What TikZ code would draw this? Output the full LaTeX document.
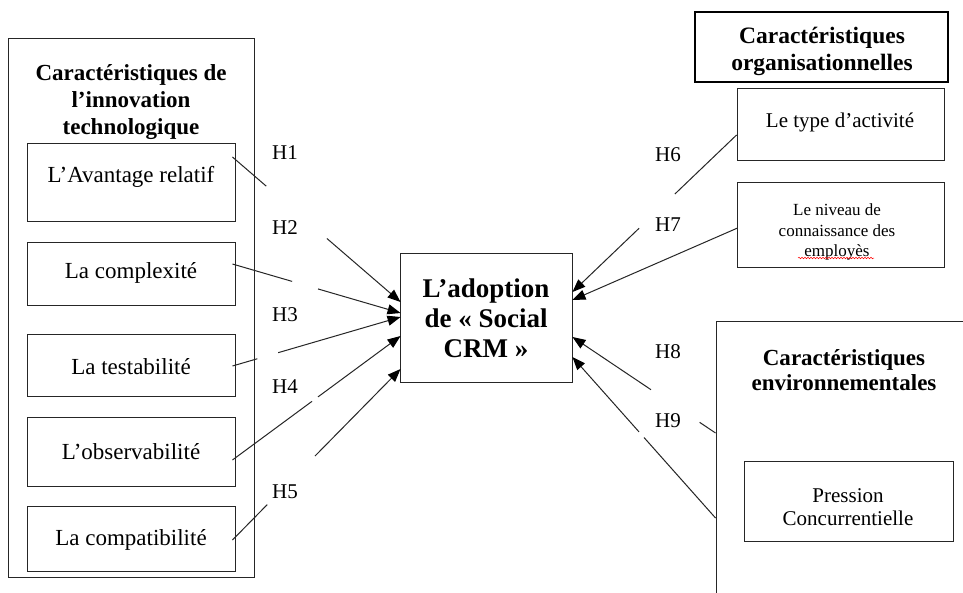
\documentclass[tikz,border=0pt]{standalone}
\usepackage{fontspec}
\setmainfont{Liberation Serif}
\usetikzlibrary{arrows.meta,calc,decorations.pathmorphing}
\begin{document}
\begin{tikzpicture}[x=1pt,y=-1pt,
  box/.style={draw=black!85, line width=0.9pt, inner sep=0pt, rectangle},
  thickbox/.style={draw=black, line width=2.4pt, inner sep=0pt, rectangle},
  conn/.style={draw=black!85, line width=1pt},
  arr/.style={conn, -{Triangle[length=13pt,width=10pt,fill=black,color=black]}},
  hlab/.style={font=\fontsize{21}{24}\selectfont, inner sep=0pt},
  itxt/.style={font=\fontsize{23}{26}\selectfont, inner sep=0pt, align=center},
  rtxt/.style={font=\fontsize{21}{23}\selectfont, inner sep=0pt, align=center},
  ttl/.style={font=\bfseries\fontsize{23}{27}\selectfont, inner sep=0pt, align=center}
]
\useasboundingbox (0,0) rectangle (963,592);
\clip (0,0) rectangle (963,592);
\fill[white] (0,0) rectangle (963,592);

% left group
\node[box, minimum width=246pt, minimum height=539pt] (outer) at (131,307.5) {};
\node[ttl] (ltitle) at (131,102) {Caractéristiques de\\l’innovation\\technologique};
\node[box, minimum width=208pt, minimum height=78pt] (b1) at (131,182) {};
\node[itxt] (b1t) at (131,177) {L’Avantage relatif};
\node[box, minimum width=208pt, minimum height=63pt] (b2) at (131,273.5) {};
\node[itxt] (b2t) at (131,273) {La complexité};
\node[box, minimum width=208pt, minimum height=62pt] (b3) at (131,365) {};
\node[itxt] (b3t) at (131,367) {La testabilité};
\node[box, minimum width=208pt, minimum height=69pt] (b4) at (131,451.5) {};
\node[itxt] (b4t) at (131,452) {L’observabilité};
\node[box, minimum width=208pt, minimum height=65pt] (b5) at (131,538.5) {};
\node[itxt] (b5t) at (131,540) {La compatibilité};

% centre
\node[box, minimum width=172pt, minimum height=129pt] (c) at (486,317.5) {};
\node[font=\bfseries\fontsize{27}{30}\selectfont, inner sep=0pt, align=center] (ct) at (486,318) {L’adoption\\de «~Social\\CRM~»};

% right top
\node[thickbox, minimum width=253pt, minimum height=70pt] (org) at (821.5,47) {};
\node[ttl, font=\bfseries\fontsize{23.5}{27}\selectfont] (orgt) at (822,51) {Caractéristiques\\organisationnelles};
\node[box, minimum width=207pt, minimum height=72pt] (type) at (840.5,124) {};
\node[rtxt] (typet) at (840,122) {Le type d’activité};
\node[box, minimum width=207pt, minimum height=85pt] (niv) at (840.5,224.5) {};
\node[font=\fontsize{17}{20.5}\selectfont, inner sep=0pt, align=center] (nivt) at (837,232) {Le niveau de\\connaissance des\\employès};
\draw[red, line width=0.5pt, decorate, decoration={snake, amplitude=0.8pt, segment length=3pt}] (798,258) -- (874,258);

% right bottom
\node[box, minimum width=274pt, minimum height=299pt] (env) at (853,470.5) {};
\node[ttl, font=\bfseries\fontsize{23}{25}\selectfont] (envt) at (844,370) {Caractéristiques\\environnementales};
\node[box, minimum width=209pt, minimum height=80pt] (pres) at (848.5,501) {};
\node[rtxt] (prest) at (848,507) {Pression\\Concurrentielle};

% hypothesis labels
\node[hlab] (h1) at (285,153) {H1};
\node[hlab] (h2) at (285,228) {H2};
\node[hlab] (h3) at (285,315) {H3};
\node[hlab] (h4) at (285,387) {H4};
\node[hlab] (h5) at (285,492) {H5};
\node[hlab] (h6) at (668,155) {H6};
\node[hlab] (h7) at (668,225) {H7};
\node[hlab] (h8) at (668,352) {H8};
\node[hlab] (h9) at (668,421) {H9};

% connector ends
\coordinate (s1) at ($(b1.east)+(-3,-25)$);
\coordinate (s2) at ($(b2.east)+(-3,-9.5)$);
\coordinate (s3) at ($(b3.east)+(-3,1)$);
\coordinate (s4) at ($(b4.east)+(-3,8.5)$);
\coordinate (s5) at ($(b5.east)+(-3,1.5)$);
\coordinate (t1) at ($(c.west)+(1,-15.5)$);
\coordinate (t2) at ($(c.west)+(1,-4.5)$);
\coordinate (t3) at ($(c.west)+(1,-0.5)$);
\coordinate (t4) at ($(c.west)+(1,18.5)$);
\coordinate (t5) at ($(c.west)+(1,51.5)$);
\coordinate (s6) at ($(type.west)+(0,11)$);
\coordinate (s7) at ($(niv.west)+(1,3.5)$);
\coordinate (s8) at ($(env.west)+(0,-37.5)$);
\coordinate (s9) at ($(env.west)+(0,47.5)$);
\coordinate (t6) at ($(c.east)+(0,-25.5)$);
\coordinate (t7) at ($(c.east)+(0,-17.5)$);
\coordinate (t8) at ($(c.east)+(0,19.5)$);
\coordinate (t9) at ($(c.east)+(0,39.5)$);

% connectors (interrupted where the labels cover them)
\draw[conn] (s1) -- ($(s1)!0.201!(t1)$);
\draw[arr] ($(s1)!0.562!(t1)$) -- (t1);
\draw[conn] (s2) -- ($(s2)!0.355!(t2)$);
\draw[arr] ($(s2)!0.509!(t2)$) -- (t2);
\draw[conn] (s3) -- ($(s3)!0.148!(t3)$);
\draw[arr] ($(s3)!0.272!(t3)$) -- (t3);
\draw[conn] (s4) -- ($(s4)!0.473!(t4)$);
\draw[arr] ($(s4)!0.509!(t4)$) -- (t4);
\draw[conn] (s5) -- ($(s5)!0.207!(t5)$);
\draw[arr] ($(s5)!0.491!(t5)$) -- (t5);
\draw[conn] (s6) -- ($(s6)!0.376!(t6)$);
\draw[arr] ($(s6)!0.594!(t6)$) -- (t6);
\draw[arr] (s7) -- (t7);
\draw[conn] (s8) -- ($(s8)!0.111!(t8)$);
\draw[arr] ($(s8)!0.451!(t8)$) -- (t8);
\draw[conn] (s9) -- ($(s9)!0.5!(t9)$);
\draw[arr] ($(s9)!0.535!(t9)$) -- (t9);
\end{tikzpicture}
\end{document}
